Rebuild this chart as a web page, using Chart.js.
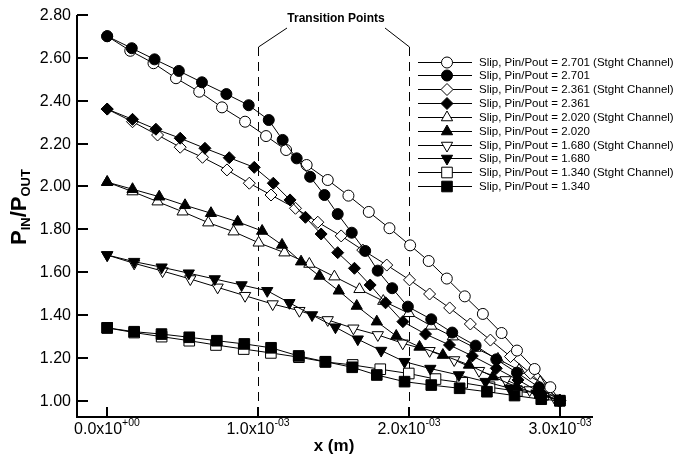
<!DOCTYPE html>
<html>
<head>
<meta charset="utf-8">
<script src="https://cdn.jsdelivr.net/npm/chart.js@4.4.1/dist/chart.umd.min.js"></script>
<style>
  html, body { margin: 0; padding: 0; background: #fff; }
  #wrap { width: 677px; height: 457px; position: relative; }
</style>
</head>
<body>
<div id="wrap"><canvas id="presChart"></canvas></div>
<script>
// x positions are in units of 1e-3 m
var st2701X = [0, 0.153, 0.307, 0.456, 0.610, 0.761, 0.914, 1.053, 1.186, 1.322, 1.462, 1.599, 1.734, 1.871, 2.008, 2.131, 2.251, 2.370, 2.490, 2.614, 2.716, 2.833, 2.937, 3.0];
var st2701Y = [2.701, 2.633, 2.575, 2.505, 2.442, 2.369, 2.302, 2.235, 2.170, 2.100, 2.030, 1.957, 1.881, 1.805, 1.725, 1.652, 1.570, 1.487, 1.405, 1.316, 1.234, 1.148, 1.063, 1.0];
var sl2701X = [0, 0.163, 0.314, 0.475, 0.628, 0.790, 0.938, 1.071, 1.163, 1.256, 1.345, 1.440, 1.528, 1.621, 1.710, 1.793, 1.889, 1.993, 2.148, 2.287, 2.442, 2.579, 2.716, 2.862, 3.0];
var sl2701Y = [2.701, 2.645, 2.593, 2.539, 2.486, 2.431, 2.379, 2.310, 2.217, 2.131, 2.045, 1.960, 1.871, 1.784, 1.699, 1.607, 1.525, 1.439, 1.380, 1.318, 1.257, 1.193, 1.131, 1.063, 1.0];

var st2361X = [0, 0.168, 0.334, 0.484, 0.632, 0.794, 0.942, 1.086, 1.248, 1.396, 1.551, 1.694, 1.853, 2.004, 2.137, 2.270, 2.407, 2.540, 2.673, 2.805, 2.911, 3.0];
var st2361Y = [2.361, 2.302, 2.240, 2.183, 2.136, 2.077, 2.015, 1.960, 1.898, 1.833, 1.769, 1.703, 1.633, 1.564, 1.498, 1.433, 1.358, 1.283, 1.206, 1.128, 1.058, 1.0];
var sl2361X = [0, 0.168, 0.323, 0.484, 0.648, 0.809, 0.975, 1.101, 1.212, 1.314, 1.418, 1.528, 1.639, 1.743, 1.845, 1.960, 2.110, 2.269, 2.420, 2.579, 2.723, 2.878, 3.0];
var sl2361Y = [2.361, 2.313, 2.267, 2.225, 2.178, 2.134, 2.089, 2.015, 1.937, 1.856, 1.778, 1.691, 1.618, 1.540, 1.457, 1.369, 1.311, 1.260, 1.209, 1.151, 1.097, 1.035, 1.0];

var st2020X = [0, 0.168, 0.334, 0.500, 0.670, 0.838, 1.004, 1.175, 1.340, 1.506, 1.672, 1.830, 2.000, 2.148, 2.291, 2.440, 2.590, 2.730, 2.870, 3.0];
var st2020Y = [2.020, 1.976, 1.929, 1.882, 1.831, 1.789, 1.737, 1.691, 1.638, 1.579, 1.520, 1.465, 1.408, 1.349, 1.299, 1.246, 1.195, 1.143, 1.087, 1.0];
var sl2020X = [0, 0.168, 0.345, 0.516, 0.688, 0.865, 1.027, 1.159, 1.285, 1.407, 1.535, 1.654, 1.787, 1.916, 2.070, 2.225, 2.398, 2.557, 2.712, 2.867, 3.0];
var sl2020Y = [2.020, 1.987, 1.952, 1.912, 1.875, 1.835, 1.792, 1.727, 1.649, 1.582, 1.513, 1.442, 1.369, 1.302, 1.251, 1.213, 1.167, 1.112, 1.065, 1.027, 1.0];

var st1680X = [0, 0.179, 0.367, 0.551, 0.732, 0.914, 1.097, 1.274, 1.462, 1.632, 1.794, 1.959, 2.137, 2.300, 2.465, 2.641, 2.800, 2.966];
var st1680Y = [1.680, 1.641, 1.605, 1.568, 1.529, 1.490, 1.451, 1.420, 1.377, 1.338, 1.307, 1.268, 1.233, 1.190, 1.140, 1.097, 1.050, 1.011];
var sl1680X = [0, 0.179, 0.361, 0.541, 0.713, 0.891, 1.061, 1.208, 1.358, 1.513, 1.661, 1.816, 1.971, 2.142, 2.331, 2.508, 2.668, 2.845, 3.0];
var sl1680Y = [1.680, 1.649, 1.623, 1.595, 1.568, 1.540, 1.513, 1.457, 1.400, 1.343, 1.287, 1.234, 1.182, 1.150, 1.120, 1.089, 1.058, 1.035, 1.0];

var st1340X = [0, 0.179, 0.361, 0.544, 0.721, 0.905, 1.085, 1.271, 1.446, 1.627, 1.810, 1.999, 2.176, 2.353, 2.534, 2.715, 2.889, 3.0];
var st1340Y = [1.340, 1.318, 1.299, 1.280, 1.260, 1.241, 1.223, 1.203, 1.181, 1.167, 1.147, 1.127, 1.101, 1.084, 1.063, 1.045, 1.027, 1.0];
var sl1340X = [0, 0.179, 0.360, 0.544, 0.727, 0.909, 1.086, 1.269, 1.447, 1.624, 1.787, 1.971, 2.148, 2.336, 2.517, 2.700, 2.877, 3.0];
var sl1340Y = [1.340, 1.322, 1.311, 1.296, 1.280, 1.265, 1.247, 1.209, 1.182, 1.156, 1.120, 1.089, 1.073, 1.058, 1.042, 1.024, 1.007, 1.0];

var xTicks = [0, 1, 2, 3];
var xTickMant = ['0.0x10', '1.0x10', '2.0x10', '3.0x10'];
var xTickExp = ['+00', '-03', '-03', '-03'];
var yTicks = [1.0, 1.2, 1.4, 1.6, 1.8, 2.0, 2.2, 2.4, 2.6, 2.8];
var transitionX = [1, 2];

var FONT = '"Liberation Sans", Arial, sans-serif';

function pts(xs, ys) {
  return xs.map(function (v, i) { return { x: v, y: ys[i] }; });
}

function series(label, xs, ys, style, rot, r, filled) {
  return {
    label: label,
    data: pts(xs, ys),
    order: filled ? 0 : 1,
    borderColor: '#000',
    borderWidth: 1,
    pointStyle: style,
    pointRotation: rot,
    pointRadius: r,
    pointHoverRadius: r,
    pointBackgroundColor: filled ? '#000' : '#fff',
    pointBorderColor: '#000',
    pointBorderWidth: 1,
    fill: false,
    tension: 0
  };
}

var datasets = [
  series('Slip, Pin/Pout = 2.701 (Stght Channel)', st2701X, st2701Y, 'circle', 0, 5.5, false),
  series('Slip, Pin/Pout = 2.701', sl2701X, sl2701Y, 'circle', 0, 5.5, true),
  series('Slip, Pin/Pout = 2.361 (Stght Channel)', st2361X, st2361Y, 'rectRot', 0, 6, false),
  series('Slip, Pin/Pout = 2.361', sl2361X, sl2361Y, 'rectRot', 0, 6, true),
  series('Slip, Pin/Pout = 2.020 (Stght Channel)', st2020X, st2020Y, 'triangle', 0, 6.5, false),
  series('Slip, Pin/Pout = 2.020', sl2020X, sl2020Y, 'triangle', 0, 6.5, true),
  series('Slip, Pin/Pout = 1.680 (Stght Channel)', st1680X, st1680Y, 'triangle', 180, 6.5, false),
  series('Slip, Pin/Pout = 1.680', sl1680X, sl1680Y, 'triangle', 180, 6.5, true),
  series('Slip, Pin/Pout = 1.340 (Stght Channel)', st1340X, st1340Y, 'rect', 0, 7.5, false),
  series('Slip, Pin/Pout = 1.340', sl1340X, sl1340Y, 'rect', 0, 7.5, true)
];

var decor = {
  id: 'decor',
  beforeDatasetsDraw: function (chart) {
    var ctx = chart.ctx, xs = chart.scales.x, ys = chart.scales.y;
    ctx.save();
    ctx.strokeStyle = '#000';
    ctx.lineWidth = 1;
    ctx.setLineDash([9, 6]);
    transitionX.forEach(function (v) {
      var px = Math.round(xs.getPixelForValue(v)) + 0.5;
      ctx.beginPath();
      ctx.moveTo(px, 47);
      ctx.lineTo(px, ys.bottom);
      ctx.stroke();
    });
    ctx.setLineDash([]);
    var lx = Math.round(xs.getPixelForValue(transitionX[0])) + 0.5;
    var rx = Math.round(xs.getPixelForValue(transitionX[1])) + 0.5;
    ctx.beginPath();
    ctx.moveTo(lx, 47); ctx.lineTo(287, 28);
    ctx.moveTo(rx, 47); ctx.lineTo(385, 28);
    ctx.stroke();
    ctx.fillStyle = '#000';
    ctx.font = 'bold 12px ' + FONT;
    ctx.textAlign = 'center';
    ctx.textBaseline = 'alphabetic';
    ctx.fillText('Transition Points', 336, 22);
    ctx.restore();
  },
  afterDraw: function (chart) {
    var ctx = chart.ctx, xs = chart.scales.x, ys = chart.scales.y;
    var a = chart.chartArea;
    ctx.save();
    ctx.strokeStyle = '#000';
    ctx.fillStyle = '#000';
    ctx.lineWidth = 2;
    ctx.beginPath();
    ctx.moveTo(a.left, a.top);
    ctx.lineTo(a.left, a.bottom);
    ctx.lineTo(a.right, a.bottom);
    ctx.stroke();

    // y ticks
    ctx.font = '16px ' + FONT;
    ctx.textAlign = 'right';
    ctx.textBaseline = 'middle';
    yTicks.forEach(function (v) {
      var py = Math.round(ys.getPixelForValue(v));
      ctx.beginPath();
      ctx.moveTo(a.left, py);
      ctx.lineTo(a.left + 11, py);
      ctx.stroke();
      ctx.fillText(v.toFixed(2), a.left - 6, py + 1);
    });

    // x ticks, mantissa plus raised exponent
    ctx.textAlign = 'left';
    ctx.textBaseline = 'alphabetic';
    xTicks.forEach(function (v, i) {
      var px = Math.round(xs.getPixelForValue(v));
      ctx.beginPath();
      ctx.moveTo(px, a.bottom);
      ctx.lineTo(px, a.bottom - 10);
      ctx.stroke();
      ctx.font = '16px ' + FONT;
      var w1 = ctx.measureText(xTickMant[i]).width;
      ctx.font = '10.5px ' + FONT;
      var w2 = ctx.measureText(xTickExp[i]).width;
      var sx = px - (w1 + w2) / 2;
      ctx.font = '16px ' + FONT;
      ctx.fillText(xTickMant[i], sx, 434);
      ctx.font = '10.5px ' + FONT;
      ctx.fillText(xTickExp[i], sx + w1, 426);
    });

    // axis titles
    ctx.font = 'bold 17px ' + FONT;
    ctx.textAlign = 'center';
    ctx.fillText('x (m)', 334, 451);

    ctx.translate(26, 207);
    ctx.rotate(-Math.PI / 2);
    var parts = [['P', 22, 0], ['IN', 13, 4], ['/P', 22, 0], ['OUT', 13, 4]];
    var total = 0;
    parts.forEach(function (p) {
      ctx.font = 'bold ' + p[1] + 'px ' + FONT;
      p.push(ctx.measureText(p[0]).width);
      total += p[3];
    });
    var cx = -total / 2;
    ctx.textAlign = 'left';
    parts.forEach(function (p) {
      ctx.font = 'bold ' + p[1] + 'px ' + FONT;
      ctx.fillText(p[0], cx, p[2]);
      cx += p[3];
    });
    ctx.restore();

    // legend
    ctx.save();
    ctx.font = '11.5px ' + FONT;
    ctx.textAlign = 'left';
    ctx.textBaseline = 'middle';
    chart.data.datasets.forEach(function (ds, i) {
      var ly = Math.round(61.5 + i * 13.85) + 0.5;
      ctx.strokeStyle = '#000';
      ctx.lineWidth = 1;
      ctx.beginPath();
      ctx.moveTo(418, ly);
      ctx.lineTo(472, ly);
      ctx.stroke();
      ctx.fillStyle = ds.pointBackgroundColor;
      Chart.helpers.drawPoint(ctx, {
        pointStyle: ds.pointStyle,
        rotation: ds.pointRotation,
        radius: ds.pointRadius,
        borderWidth: 1
      }, 447, ly);
      ctx.fillStyle = '#000';
      ctx.fillText(ds.label, 479, ly + 0.5);
    });
    ctx.restore();
  }
};

new Chart(document.getElementById('presChart').getContext('2d'), {
  type: 'line',
  data: { datasets: datasets },
  options: {
    responsive: true,
    maintainAspectRatio: false,
    animation: false,
    layout: { padding: { left: 77, right: 84, top: 15, bottom: 40 } },
    scales: {
      x: { type: 'linear', display: false, min: -0.2, max: 3.22 },
      y: { type: 'linear', display: false, min: 0.924, max: 2.8 }
    },
    plugins: {
      legend: { display: false },
      tooltip: { enabled: false }
    }
  },
  plugins: [decor]
});
</script>
</body>
</html>
